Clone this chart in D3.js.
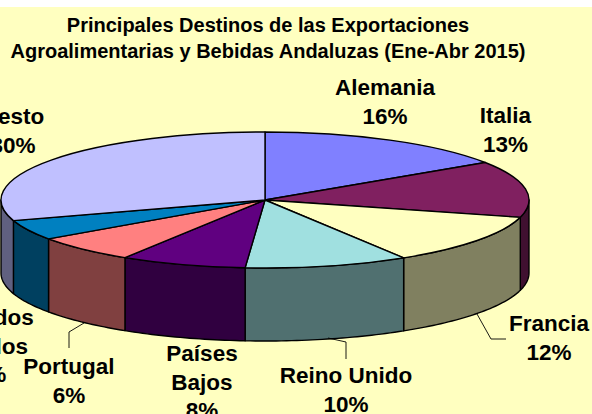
<!DOCTYPE html>
<html><head><meta charset="utf-8">
<script src="https://cdn.jsdelivr.net/npm/d3@7"></script>
<style>html,body{margin:0;padding:0;background:#fff}svg{display:block}
text{font-family:"Liberation Sans",Arial,sans-serif;font-weight:bold;fill:#000}</style></head>
<body><svg id="c" width="592" height="414"></svg>
<script>
const categories=["Alemania","Italia","Francia","Reino Unido","Países Bajos","Portugal","Estados Unidos","Resto"];
const shares=[15.7,13.4,12.1,10,7.7,6.4,4.8,29.9];
const topColors=["#8080ff","#802060","#ffffc0","#a0e0e0","#600080","#ff8080","#0080c0","#c0c0ff"];
const wallColors=["#404080","#401030","#808060","#507070","#300040","#804040","#004060","#606080"];
const nameLines=[["Alemania"],["Italia"],["Francia"],["Reino Unido"],["Países","Bajos"],["Portugal"],["Estados","Unidos"],["Resto"]];
const labelAnchors=[[385,95],[505.5,123],[549,331],[346,383],[202,361],[69,374],[-10,325],[13,124]];
const leaders=[null,null,[[477,314],[491,339],[506,339]],[[328,338],[346,342],[346,359]],null,[[84,323],[69,332],[69,348]],null,null];
const titleLines=["Principales Destinos de las Exportaciones","Agroalimentarias y Bebidas Andaluzas (Ene-Abr 2015)"];

const cx=265,cy=200,rx=264,ry=68,depth=73;
const svg=d3.select("#c");
svg.append("rect").attr("x",0).attr("y",7).attr("width",592).attr("height",407).attr("fill","#ffffc0");
const slices=d3.pie().sort(null).startAngle(0).endAngle(2*Math.PI)(shares);
const px=a=>cx+rx*Math.sin(a), py=a=>cy-ry*Math.cos(a);
const line=d3.line();
const PI=Math.PI;

const walls=svg.append("g");
slices.forEach((s,i)=>{
  const a0=Math.max(s.startAngle,PI/2),a1=Math.min(s.endAngle,3*PI/2);
  if(a1<=a0)return;
  const n=Math.ceil((a1-a0)/0.02);
  const as=d3.range(n+1).map(k=>a0+(a1-a0)*k/n);
  const pts=as.map(a=>[px(a),py(a)]).concat(as.slice().reverse().map(a=>[px(a),py(a)+depth]));
  walls.append("path").attr("d",line(pts)+"Z").attr("fill",wallColors[i]).attr("stroke","#000").attr("stroke-width",1.4).attr("stroke-linejoin","round");
});

const arc=d3.arc().innerRadius(0).outerRadius(rx);
svg.append("g").attr("transform",`translate(${cx},${cy}) scale(1,${ry/rx})`)
 .selectAll("path").data(slices).join("path")
 .attr("d",arc).attr("fill",(d,i)=>topColors[i])
 .attr("stroke","#000").attr("stroke-width",1.4).attr("vector-effect","non-scaling-stroke").attr("stroke-linejoin","round");

leaders.forEach(l=>{if(l)svg.append("path").attr("d",line(l)).attr("fill","none").attr("stroke","#000").attr("stroke-width",0.9);});

const pct=d3.format(".0f");
categories.forEach((c,i)=>{
  const [x,y]=labelAnchors[i];
  nameLines[i].concat([pct(shares[i])+"%"]).forEach((t,k)=>svg.append("text").attr("x",x).attr("y",y+k*28.5).attr("text-anchor","middle").attr("font-size",22.5).text(t));
});
titleLines.forEach((t,k)=>svg.append("text").attr("x",268).attr("y",32+k*26).attr("text-anchor","middle").attr("font-size",20).text(t));
</script></body></html>
